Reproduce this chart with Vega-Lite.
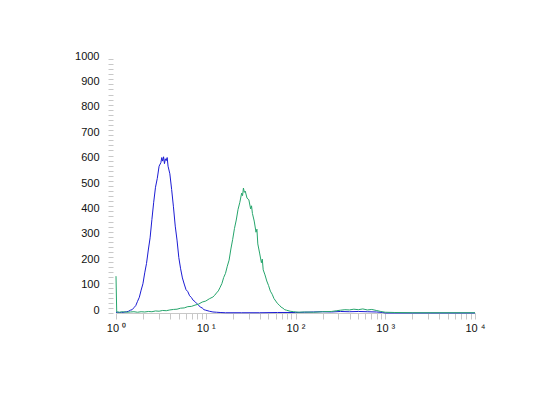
{
  "$schema": "https://vega.github.io/schema/vega-lite/v6.json",
  "autosize": "none",
  "width": 359,
  "height": 254,
  "padding": {"left": 116, "top": 59, "right": 75, "bottom": 80},
  "background": "white",
  "config": {"view": {"stroke": null}},
  "data": {"values": [
    {"s":"blue","c":0.00,"v":2},{"s":"blue","c":0.02,"v":3},{"s":"blue","c":0.04,"v":2},{"s":"blue","c":0.06,"v":3},{"s":"blue","c":0.08,"v":2},{"s":"blue","c":0.10,"v":4},{"s":"blue","c":0.12,"v":5},{"s":"blue","c":0.14,"v":7},{"s":"blue","c":0.16,"v":11},{"s":"blue","c":0.18,"v":13},{"s":"blue","c":0.20,"v":21},{"s":"blue","c":0.22,"v":29},{"s":"blue","c":0.24,"v":46},{"s":"blue","c":0.26,"v":62},{"s":"blue","c":0.28,"v":90},{"s":"blue","c":0.30,"v":115},{"s":"blue","c":0.32,"v":158},{"s":"blue","c":0.34,"v":195},{"s":"blue","c":0.36,"v":248},{"s":"blue","c":0.38,"v":296},{"s":"blue","c":0.40,"v":368},{"s":"blue","c":0.42,"v":436},{"s":"blue","c":0.44,"v":495},{"s":"blue","c":0.46,"v":530},{"s":"blue","c":0.48,"v":578},{"s":"blue","c":0.50,"v":592},{"s":"blue","c":0.51,"v":612},{"s":"blue","c":0.52,"v":598},{"s":"blue","c":0.53,"v":615},{"s":"blue","c":0.54,"v":588},{"s":"blue","c":0.55,"v":607},{"s":"blue","c":0.56,"v":600},{"s":"blue","c":0.57,"v":612},{"s":"blue","c":0.58,"v":578},{"s":"blue","c":0.60,"v":548},{"s":"blue","c":0.62,"v":486},{"s":"blue","c":0.64,"v":418},{"s":"blue","c":0.66,"v":342},{"s":"blue","c":0.68,"v":287},{"s":"blue","c":0.70,"v":218},{"s":"blue","c":0.72,"v":174},{"s":"blue","c":0.74,"v":138},{"s":"blue","c":0.76,"v":114},{"s":"blue","c":0.78,"v":92},{"s":"blue","c":0.80,"v":84},{"s":"blue","c":0.82,"v":68},{"s":"blue","c":0.84,"v":61},{"s":"blue","c":0.86,"v":50},{"s":"blue","c":0.88,"v":45},{"s":"blue","c":0.90,"v":37},{"s":"blue","c":0.92,"v":31},{"s":"blue","c":0.94,"v":23},{"s":"blue","c":0.96,"v":20},{"s":"blue","c":0.98,"v":13},{"s":"blue","c":1.00,"v":11},{"s":"blue","c":1.04,"v":7},{"s":"blue","c":1.08,"v":4},{"s":"blue","c":1.12,"v":3},{"s":"blue","c":1.16,"v":2},{"s":"blue","c":1.22,"v":1},{"s":"blue","c":1.4,"v":1},{"s":"blue","c":1.6,"v":1},{"s":"blue","c":1.8,"v":2},{"s":"blue","c":2.0,"v":2},{"s":"blue","c":2.1,"v":3},{"s":"blue","c":2.2,"v":4},{"s":"blue","c":2.3,"v":5},{"s":"blue","c":2.4,"v":4},{"s":"blue","c":2.5,"v":6},{"s":"blue","c":2.6,"v":5},{"s":"blue","c":2.7,"v":6},{"s":"blue","c":2.8,"v":5},{"s":"blue","c":2.9,"v":4},{"s":"blue","c":2.97,"v":2},{"s":"blue","c":3.0,"v":0},{"s":"blue","c":3.5,"v":0},{"s":"blue","c":4.0,"v":0},
    {"s":"green","c":0.000,"v":145},{"s":"green","c":0.008,"v":4},{"s":"green","c":0.04,"v":3},{"s":"green","c":0.08,"v":5},{"s":"green","c":0.12,"v":3},{"s":"green","c":0.16,"v":4},{"s":"green","c":0.20,"v":5},{"s":"green","c":0.24,"v":3},{"s":"green","c":0.28,"v":5},{"s":"green","c":0.32,"v":4},{"s":"green","c":0.36,"v":6},{"s":"green","c":0.40,"v":5},{"s":"green","c":0.44,"v":8},{"s":"green","c":0.48,"v":7},{"s":"green","c":0.52,"v":10},{"s":"green","c":0.56,"v":9},{"s":"green","c":0.60,"v":12},{"s":"green","c":0.64,"v":14},{"s":"green","c":0.68,"v":15},{"s":"green","c":0.72,"v":19},{"s":"green","c":0.76,"v":20},{"s":"green","c":0.80,"v":25},{"s":"green","c":0.84,"v":26},{"s":"green","c":0.88,"v":31},{"s":"green","c":0.92,"v":35},{"s":"green","c":0.96,"v":43},{"s":"green","c":1.00,"v":47},{"s":"green","c":1.04,"v":56},{"s":"green","c":1.08,"v":63},{"s":"green","c":1.10,"v":70},{"s":"green","c":1.12,"v":79},{"s":"green","c":1.14,"v":87},{"s":"green","c":1.16,"v":101},{"s":"green","c":1.18,"v":116},{"s":"green","c":1.20,"v":140},{"s":"green","c":1.22,"v":156},{"s":"green","c":1.24,"v":184},{"s":"green","c":1.26,"v":208},{"s":"green","c":1.28,"v":252},{"s":"green","c":1.30,"v":290},{"s":"green","c":1.32,"v":333},{"s":"green","c":1.34,"v":366},{"s":"green","c":1.36,"v":408},{"s":"green","c":1.38,"v":436},{"s":"green","c":1.40,"v":472},{"s":"green","c":1.41,"v":462},{"s":"green","c":1.42,"v":492},{"s":"green","c":1.43,"v":475},{"s":"green","c":1.44,"v":480},{"s":"green","c":1.46,"v":452},{"s":"green","c":1.48,"v":446},{"s":"green","c":1.50,"v":410},{"s":"green","c":1.51,"v":422},{"s":"green","c":1.52,"v":392},{"s":"green","c":1.54,"v":362},{"s":"green","c":1.56,"v":318},{"s":"green","c":1.57,"v":330},{"s":"green","c":1.58,"v":272},{"s":"green","c":1.60,"v":236},{"s":"green","c":1.62,"v":198},{"s":"green","c":1.63,"v":212},{"s":"green","c":1.64,"v":170},{"s":"green","c":1.66,"v":150},{"s":"green","c":1.68,"v":126},{"s":"green","c":1.70,"v":108},{"s":"green","c":1.72,"v":86},{"s":"green","c":1.74,"v":74},{"s":"green","c":1.76,"v":57},{"s":"green","c":1.78,"v":47},{"s":"green","c":1.80,"v":37},{"s":"green","c":1.82,"v":31},{"s":"green","c":1.84,"v":23},{"s":"green","c":1.86,"v":19},{"s":"green","c":1.88,"v":13},{"s":"green","c":1.90,"v":11},{"s":"green","c":1.94,"v":7},{"s":"green","c":1.98,"v":5},{"s":"green","c":2.04,"v":3},{"s":"green","c":2.1,"v":4},{"s":"green","c":2.2,"v":3},{"s":"green","c":2.3,"v":5},{"s":"green","c":2.4,"v":6},{"s":"green","c":2.46,"v":9},{"s":"green","c":2.5,"v":11},{"s":"green","c":2.55,"v":13},{"s":"green","c":2.6,"v":12},{"s":"green","c":2.65,"v":15},{"s":"green","c":2.7,"v":13},{"s":"green","c":2.75,"v":16},{"s":"green","c":2.8,"v":12},{"s":"green","c":2.85,"v":14},{"s":"green","c":2.9,"v":10},{"s":"green","c":2.95,"v":6},{"s":"green","c":3.0,"v":3},{"s":"green","c":3.1,"v":2},{"s":"green","c":3.3,"v":1},{"s":"green","c":3.6,"v":1},{"s":"green","c":4.0,"v":1}
  ]},
  "mark": {"type": "line", "strokeWidth": 1, "interpolate": "linear"},
  "encoding": {
    "x": {
      "field": "c", "type": "quantitative",
      "scale": {"domain": [0, 4], "nice": false, "zero": false},
      "axis": {
        "title": null,
        "values": [0,0.30103,0.47712,0.60206,0.69897,0.77815,0.8451,0.90309,0.95424,1,1.30103,1.47712,1.60206,1.69897,1.77815,1.8451,1.90309,1.95424,2,2.30103,2.47712,2.60206,2.69897,2.77815,2.8451,2.90309,2.95424,3,3.30103,3.47712,3.60206,3.69897,3.77815,3.8451,3.90309,3.95424,4],
        "labelExpr": "datum.value == 0 ? '10 ⁰' : datum.value == 1 ? '10 ¹' : datum.value == 2 ? '10 ²' : datum.value == 3 ? '10 ³' : datum.value == 4 ? '10 ⁴' : ''",
        "labelOverlap": false,
        "labelFlush": false,
        "labelFont": "Liberation Sans Narrow, Arial Narrow, Liberation Sans",
        "labelFontSize": 11,
        "labelColor": "#111111",
        "labelPadding": 3,
        "tickColor": "#c8c8c8",
        "tickSize": 6,
        "domainColor": "#c8c8c8",
        "grid": false
      }
    },
    "y": {
      "field": "v", "type": "quantitative",
      "scale": {"domain": [0, 1000], "nice": false},
      "axis": {
        "title": null,
        "values": [0,20,40,60,80,100,120,140,160,180,200,220,240,260,280,300,320,340,360,380,400,420,440,460,480,500,520,540,560,580,600,620,640,660,680,700,720,740,760,780,800,820,840,860,880,900,920,940,960,980,1000],
        "format": "d",
        "labelExpr": "datum.value % 100 == 0 ? datum.label : ''",
        "labelOverlap": false,
        "labelFlush": false,
        "labelFont": "Liberation Sans Narrow, Arial Narrow, Liberation Sans",
        "labelFontSize": 11,
        "labelColor": "#111111",
        "labelOffset": -3,
        "labelPadding": 9,
        "offset": 3,
        "tickColor": "#c8c8c8",
        "tickSize": 5,
        "domain": false,
        "grid": false
      }
    },
    "color": {
      "field": "s", "type": "nominal",
      "scale": {"domain": ["blue", "green"], "range": ["#1c1cd4", "#26a56c"]},
      "legend": null
    }
  }
}
